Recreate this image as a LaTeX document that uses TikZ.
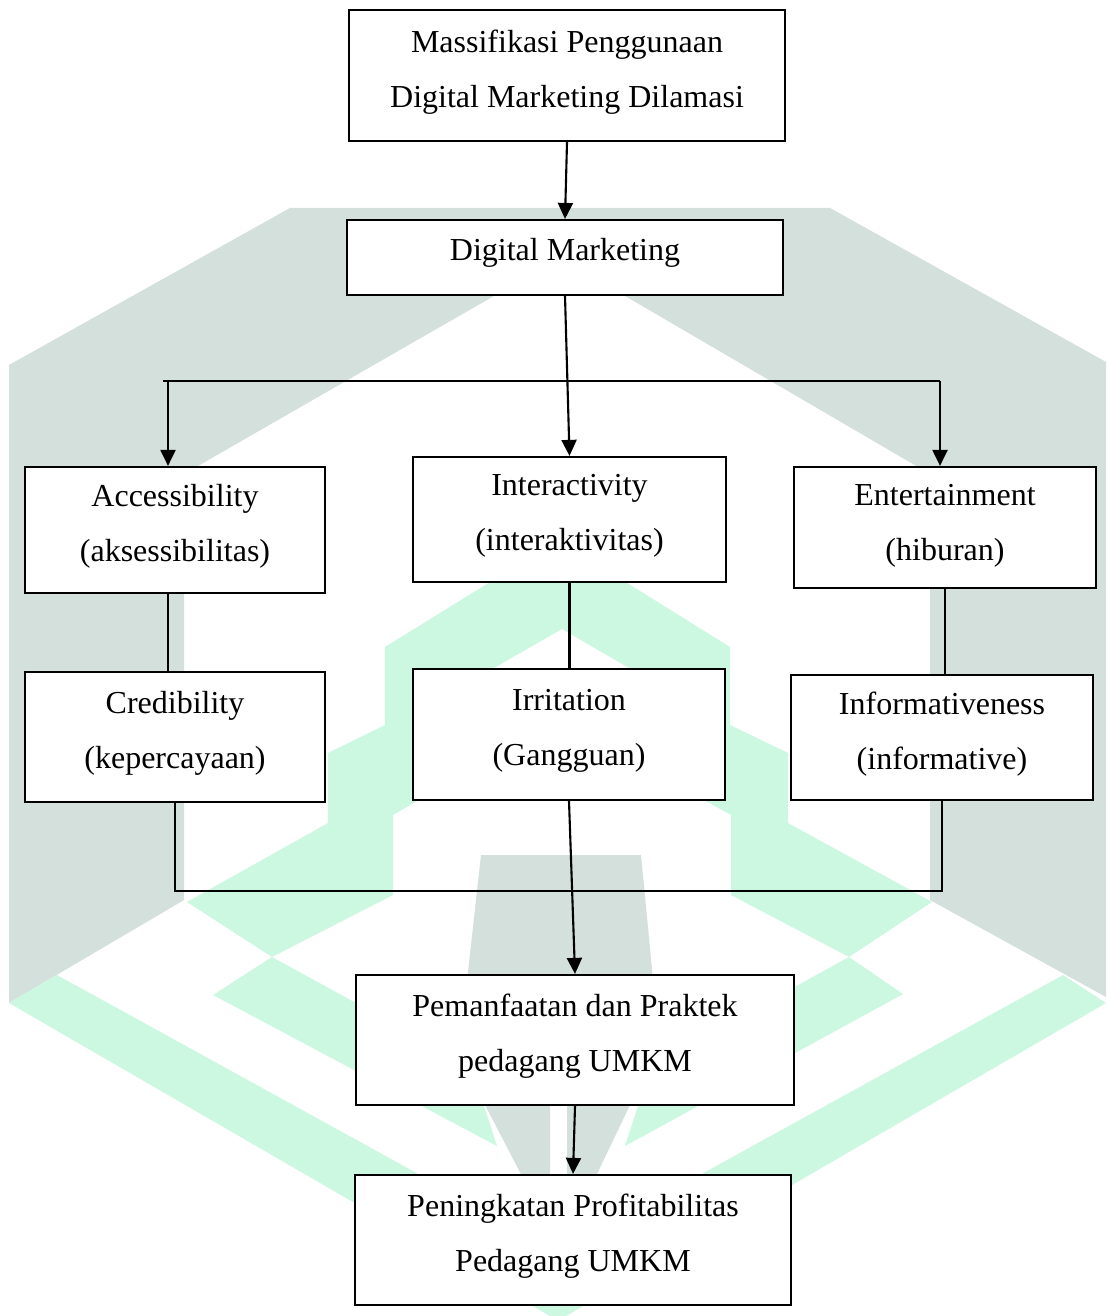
\documentclass[tikz,border=0pt]{standalone}
\usepackage{fontspec}
\setmainfont{Liberation Serif}
\usepackage{tikz}
\usetikzlibrary{arrows.meta}
\definecolor{wmgrey}{HTML}{D3E0DC}
\definecolor{wmgreen}{HTML}{CCF8E2}
\newcommand{\boxfont}{\fontsize{9.1pt}{15.65pt}\selectfont}
\newcommand{\lowpad}[1][0.07cm]{\par\kern#1}
\tikzset{
    flow-box/.style = {draw=black, fill=white, line width=0.6pt, rectangle, align=flush center, inner sep=0pt, font=\boxfont},
    flow-line/.style = {draw=black, line width=0.6pt},
    flow-arrow/.style = {flow-line, -{Triangle[length=1.6mm, width=1.5mm]}},
    wm-grey/.style = {fill=wmgrey, draw=none},
    wm-green/.style = {fill=wmgreen, draw=none},
}

\begin{document}
\begin{tikzpicture}[x=0.01cm, y=-0.01cm]
\useasboundingbox[fill=white] (0,0) rectangle (1106,1316);

\fill[wm-grey] (9,1003) -- (9,365) -- (290,208) -- (830,208) -- (1106,362) -- (1106,997) -- (930,900) -- (930,474) -- (560,258) -- (184,474) -- (184,900) -- cycle;
\fill[wm-green] (187,902) -- (328,823) -- (328,753) -- (385,725) -- (385,647) -- (558,540) -- (730,647) -- (730,725) -- (788,753) -- (788,823) -- (932,902) -- (849,957) -- (731,895) -- (731,815) -- (677,785) -- (677,696) -- (562,629) -- (445,696) -- (445,785) -- (393,815) -- (393,895) -- (272,957) -- cycle;
\fill[wm-green] (272,957) -- (213,995) -- (497,1146) -- (471,1066) -- cycle;
\fill[wm-green] (849,957) -- (903,994) -- (625,1146) -- (651,1066) -- cycle;
\fill[wm-green] (9,1003) -- (57,975) -- (560,1252) -- (1063,975) -- (1106,1003) -- (566,1316) -- (550,1316) -- cycle;
\fill[wm-grey] (481,855) -- (641,855) -- (654,990) -- (466,990) -- cycle;
\fill[wm-grey] (485,1105) -- (550,1105) -- (550,1176) -- (522,1176) -- cycle;
\fill[wm-grey] (567,1105) -- (630,1105) -- (596,1176) -- (567,1176) -- cycle;

\node[flow-box, text width=4.36cm, minimum height=1.31cm] (massif) at (567,75.5) {Massifikasi Penggunaan\\Digital Marketing Dilamasi\lowpad};
\node[flow-box, text width=4.36cm, minimum height=0.75cm] (digital) at (565,257.5) {Digital Marketing\lowpad[0.1cm]};
\node[flow-box, text width=3.00cm, minimum height=1.26cm] (access) at (175,530) {Accessibility\\(aksessibilitas)\lowpad};
\node[flow-box, text width=3.13cm, minimum height=1.25cm] (interact) at (569.5,519.5) {Interactivity\\(interaktivitas)\lowpad};
\node[flow-box, text width=3.02cm, minimum height=1.21cm] (entertain) at (945,527.5) {Entertainment\\(hiburan)\lowpad[0.04cm]};
\node[flow-box, text width=3.00cm, minimum height=1.30cm] (credib) at (175,737) {Credibility\\(kepercayaan)\lowpad};
\node[flow-box, text width=3.12cm, minimum height=1.31cm] (irritate) at (569,734.5) {Irritation\\(Gangguan)\lowpad};
\node[flow-box, text width=3.02cm, minimum height=1.25cm] (inform) at (942,737.5) {Informativeness\\(informative)\lowpad};
\node[flow-box, text width=4.38cm, minimum height=1.30cm] (practice) at (575,1040) {Pemanfaatan dan Praktek\\pedagang UMKM\lowpad};
\node[flow-box, text width=4.36cm, minimum height=1.30cm] (profit) at (573,1240) {Peningkatan Profitabilitas\\Pedagang UMKM\lowpad};

\coordinate (bus-l) at (163,381);
\coordinate (drop-l) at (168,381);
\coordinate (drop-r) at (940,381);
\coordinate (merge) at (573,891);

\draw[flow-arrow] (massif.south) -- (digital.north);
\draw[flow-arrow] (digital.south) -- (interact.north);
\draw[flow-line] (bus-l) -- (drop-r);
\draw[flow-arrow] (drop-l) -- (drop-l |- access.north);
\draw[flow-arrow] (drop-r) -- (drop-r |- entertain.north);
\draw[flow-line] (access.south -| drop-l) -- (credib.north -| drop-l);
\draw[flow-line] (interact.south) -- (interact.south |- irritate.north);
\draw[flow-line] (entertain.south) -- (entertain.south |- inform.north);
\draw[flow-line] (credib.south) |- (merge) -| (inform.south);
\draw[flow-arrow] (irritate.south) -- (practice.north);
\draw[flow-arrow] (practice.south) -- (profit.north);
\end{tikzpicture}
\end{document}
